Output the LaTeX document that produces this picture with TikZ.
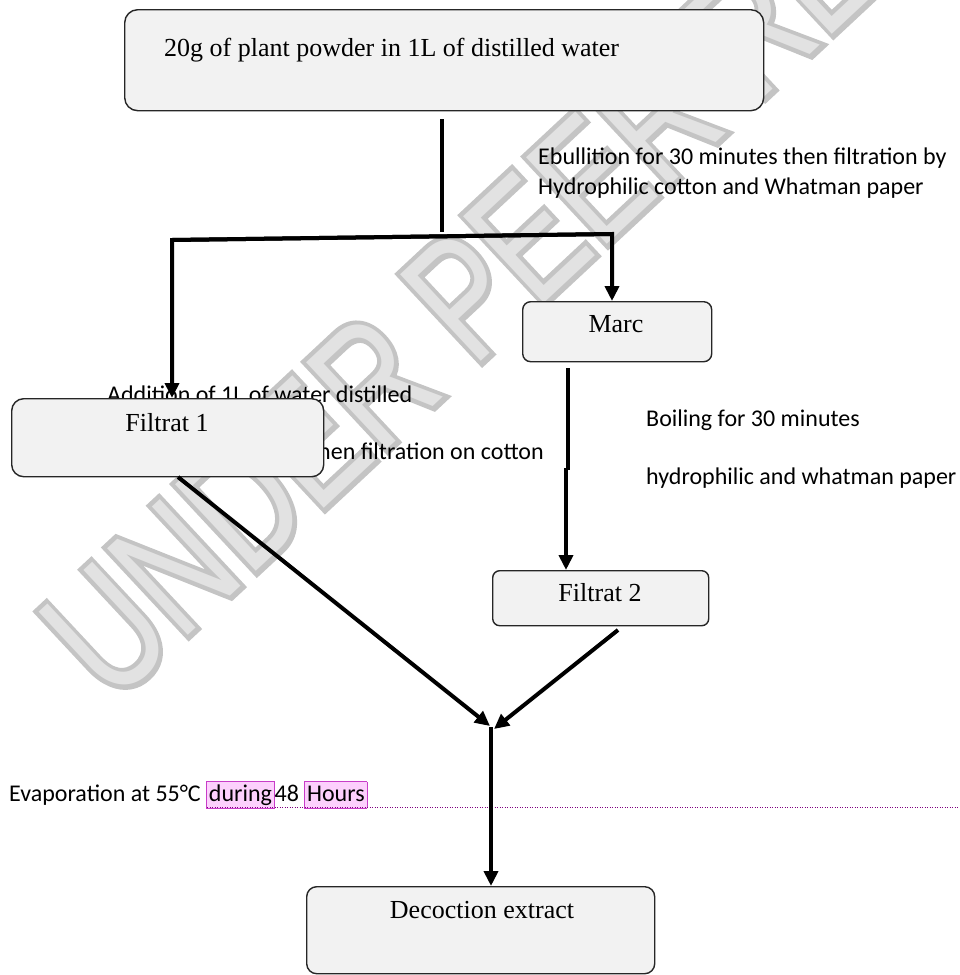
\documentclass[tikz,border=0pt]{standalone}
\usepackage{fontspec}
\setmainfont{Liberation Serif}
\newfontfamily\carl{Carlito}
\newfontfamily\wmouter[FakeBold=6]{Liberation Sans}
\newfontfamily\wminner{Liberation Sans}
\usetikzlibrary{arrows.meta}
\definecolor{boxfill}{RGB}{242,242,242}
\definecolor{hlfill}{RGB}{253,208,253}
\definecolor{hlborder}{RGB}{200,60,200}
\definecolor{dotcol}{RGB}{128,0,128}
\definecolor{wmedge}{RGB}{196,196,196}
\definecolor{wmfill}{RGB}{226,226,226}
\newcommand{\hlword}[1]{{\setlength{\fboxsep}{0pt}\setlength{\fboxrule}{0.7pt}\fcolorbox{hlborder}{hlfill}{\rule[-6.5pt]{0pt}{26pt}\hspace{2pt}#1\hspace{2pt}}}}
\begin{document}
\begin{tikzpicture}[x=1pt,y=-1pt,
  box/.style={draw=black!85, line width=1.4pt, fill=boxfill, inner sep=0pt},
  serif/.style={font=\fontsize{26}{30}\selectfont, inner sep=0pt},
  sans/.style={font=\carl\fontsize{24}{30}\selectfont, inner sep=0pt},
  link/.style={line width=4pt, line cap=butt},
  arr/.style={link, -{Triangle[length=15pt,width=14pt]}},
  dotted line/.style={dotcol, line width=1.1pt, dash pattern=on 1.2pt off 1.3pt},
  wm/.style={rotate=43, xscale=0.75, anchor=base west, inner sep=0pt}
]
\useasboundingbox[fill=white] (0,0) rectangle (959,975);

% watermark
\node[wm, font=\wmouter\fontsize{172}{172}\selectfont, text=wmedge] (wm) at (112,706) {UNDER PEER REVIEW};
\node[wm, font=\wminner\fontsize{172}{172}\selectfont, text=wmfill] (wmi) at (112,706) {UNDER PEER REVIEW};

% top box
\node[box, rounded corners=13pt, minimum width=639pt, minimum height=101pt, anchor=north west] (top) at (124,9) {};
\node[serif, anchor=base west] (topt) at (164,56) {20g of plant powder in 1L of distilled water};

% labels
\node[sans, anchor=base west] (eb1) at (538,164) {Ebullition for 30 minutes then filtration by};
\node[sans, anchor=base west] (eb2) at (538,194) {Hydrophilic cotton and Whatman paper};
\node[sans, anchor=base west] (add) at (107,402) {Addition of 1L of water distilled};
\node[sans, anchor=base east] (thn) at (544,459) {then filtration on cotton};
\node[sans, anchor=base west] (boil) at (646,426) {Boiling for 30 minutes};
\node[sans, anchor=base west] (hyd) at (646,484) {hydrophilic and whatman paper};

% boxes
\node[box, rounded corners=12pt, minimum width=312pt, minimum height=78pt, anchor=north west] (f1) at (11,398) {};
\node[serif, anchor=base] (f1t) at (167,431) {Filtrat 1};
\node[box, rounded corners=8pt, minimum width=189pt, minimum height=60pt, anchor=north west] (marc) at (522,301) {};
\node[serif, anchor=base] (marct) at (616,332) {Marc};
\node[box, rounded corners=7pt, minimum width=216pt, minimum height=55pt, anchor=north west] (f2) at (492,570) {};
\node[serif, anchor=base] (f2t) at (600,601) {Filtrat 2};
\node[box, rounded corners=10pt, minimum width=348pt, minimum height=87pt, anchor=north west] (dec) at (306,886) {};
\node[serif, anchor=base] (dect) at (482,918) {Decoction extract};

% evaporation line
\node[sans, anchor=base west] (evap) at (9,801.5) {Evaporation at 55°C \hlword{during}48 \hlword{Hours}};
\coordinate (dls) at (207,807.5);
\coordinate (dle) at (959,807.5);
\draw[dotted line] (dls) -- (dle);

% connectors
\coordinate (tj) at (442,232);
\coordinate (jl) at (172,240);
\coordinate (jr) at (612,234);
\draw[link] ([yshift=-8pt]top.south -| tj) -- (tj);
\draw[arr] (jr) -- (jl) -- (jl |- f1.north);
\draw[arr] (jl) -- (jr) -- (jr |- marc.north);

\coordinate (m1) at (568,470);
\coordinate (m2) at (566,468);
\draw[link] ([yshift=-6pt]marc.south -| m1) -- (m1);
\draw[arr] (m2) -- (m2 |- f2.north);

\coordinate (f1o) at (178,477);
\coordinate (f2o) at (618,630);
\coordinate (mgl) at (490,726);
\coordinate (mgr) at (494,729);
\coordinate (mg) at (491,727);
\draw[arr] (f1o) -- (mgl);
\draw[arr] (f2o) -- (mgr);
\draw[arr] (mg) -- (mg |- dec.north);
\end{tikzpicture}
\end{document}
